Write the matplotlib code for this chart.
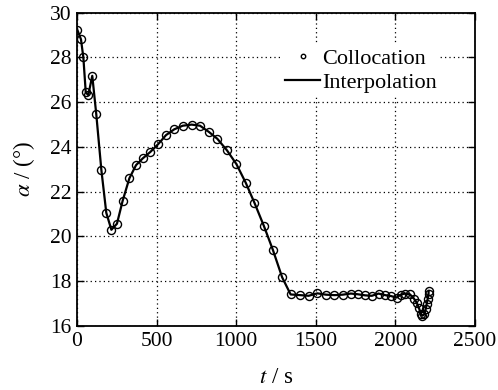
"""Angle of attack history: collocation points vs. interpolated trajectory."""

import matplotlib

matplotlib.use("Agg")

import matplotlib.pyplot as plt  # noqa: E402


# collocation nodes
TIME_S = [
    2, 25, 40, 55, 71, 96, 121, 153, 184, 216, 251, 287, 329, 371, 413, 461,
    509, 559, 611, 664, 720, 773, 829, 881, 942, 1001, 1060, 1115, 1174, 1230,
    1289, 1342, 1401, 1455, 1510, 1564, 1617, 1669, 1720, 1762, 1810, 1852,
    1894, 1935, 1971, 2008, 2033, 2060, 2092, 2117, 2134, 2148, 2160, 2170,
    2181, 2191, 2197, 2203, 2208, 2209,
]
ALPHA_DEG = [
    29.24, 28.81, 28.0, 26.44, 26.32, 27.18, 25.47, 22.98, 21.06, 20.3, 20.57,
    21.6, 22.6, 23.19, 23.49, 23.78, 24.12, 24.53, 24.79, 24.95, 25.0, 24.95,
    24.67, 24.37, 23.85, 23.24, 22.4, 21.5, 20.47, 19.41, 18.17, 17.41, 17.38,
    17.35, 17.46, 17.4, 17.38, 17.4, 17.45, 17.42, 17.37, 17.35, 17.45, 17.38,
    17.34, 17.27, 17.4, 17.45, 17.41, 17.22, 17.04, 16.8, 16.55, 16.46, 16.52,
    16.77, 17.0, 17.22, 17.42, 17.57,
]

X_TICKS = [0, 500, 1000, 1500, 2000, 2500]
Y_TICKS = [16, 18, 20, 22, 24, 26, 28, 30]


def main() -> None:
    plt.rcParams["font.family"] = ["Liberation Serif", "DejaVu Serif"]
    plt.rcParams["mathtext.fontset"] = "stix"

    fig = plt.figure(figsize=(4.98, 3.90), dpi=100)
    ax = fig.add_axes([0.1546, 0.1641, 0.7992, 0.8033])

    ax.plot(TIME_S, ALPHA_DEG, "o", markersize=5.8, markerfacecolor="none",
            markeredgecolor="black", markeredgewidth=1.0, label="Collocation",
            zorder=3)
    ax.plot(TIME_S, ALPHA_DEG, "-", color="black", linewidth=1.6,
            label="Interpolation", zorder=2)

    ax.set_xlim(0, 2500)
    ax.set_ylim(16, 30)
    ax.set_xticks(X_TICKS)
    ax.set_yticks(Y_TICKS)
    ax.tick_params(direction="in", top=True, right=True, length=5, width=1,
                   labelsize=15.5, pad=4)
    ax.grid(True, linestyle=(0, (1, 2.5)), color="black", linewidth=0.9)
    for spine in ax.spines.values():
        spine.set_linewidth(1.3)

    ax.set_xlabel(r"$t$ / s", fontsize=16.5, labelpad=12)
    ax.set_ylabel(r"$\alpha$ / (°)", fontsize=16.5, labelpad=9)

    leg = ax.legend(loc="upper left", bbox_to_anchor=(0.515, 0.898),
                    fontsize=16, frameon=True, fancybox=False,
                    framealpha=1.0, edgecolor="none", borderpad=0.15,
                    handlelength=1.55, handletextpad=0.1, labelspacing=0.16,
                    markerscale=0.55, borderaxespad=0.0)
    leg.set_zorder(5)

    fig.savefig("out.png", dpi=100)
    plt.close(fig)


if __name__ == "__main__":
    main()
